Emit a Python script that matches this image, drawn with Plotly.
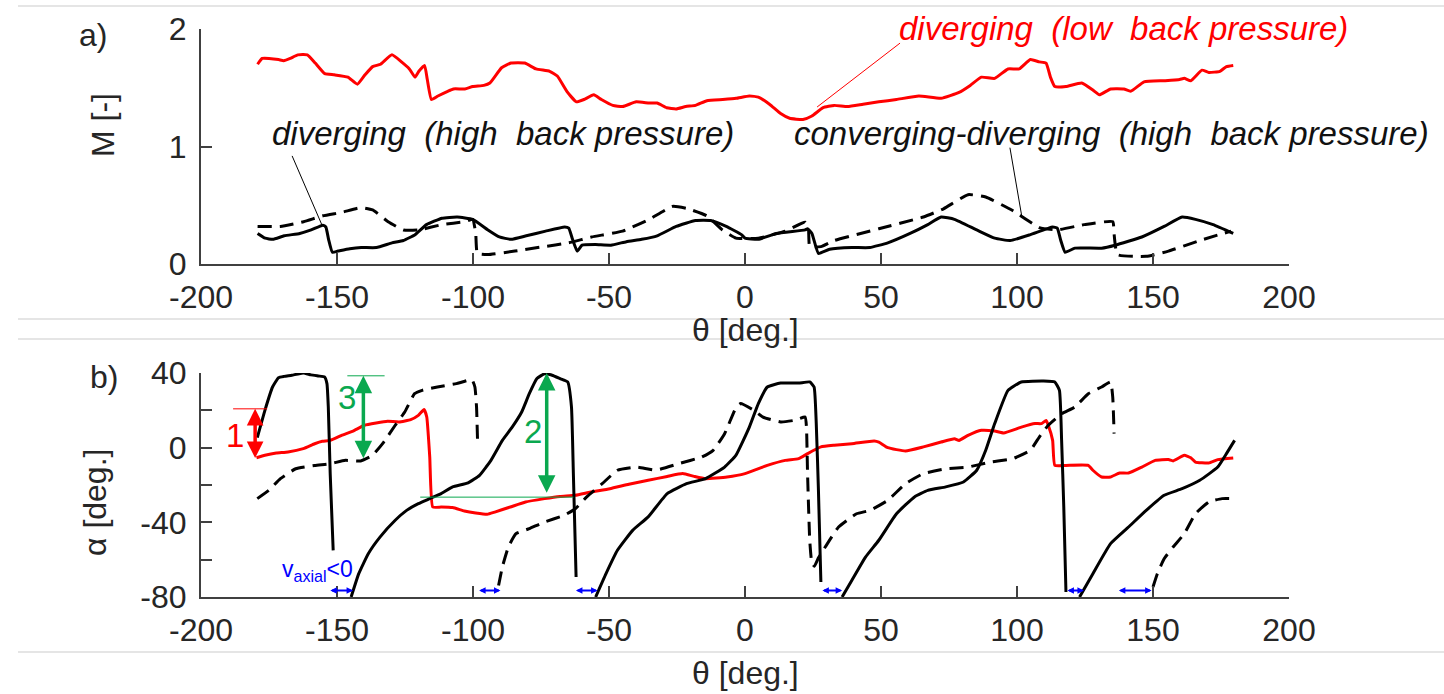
import plotly.graph_objects as go

# ---------------- Panel a) Mach number ----------------
theta_M_low = [-179.2,-177.5,-175,-171.5,-169.6,-167.2,-164.4,-160.9,-158,-154.5,-151,-146,-142.5,-139.7,-136.9,-134,-129.8,-126.3,-123.4,-121.3,-119.9,-117.8,-116.8,-115.3,-112.9,-109.3,-107.2,-103,-100.1,-96,-93.8,-89.5,-86,-81,-76.8,-71.8,-69,-65.5,-62,-59.2,-55.6,-52.8,-48.6,-45,-40,-35.2,-32.3,-28.8,-25.3,-21.8,-18.2,-14,-8.2,-3.3,1.6,4.9,9,13.1,16.4,21.3,24.6,28.7,32.8,37.7,43.4,49.2,55.7,63.9,72.1,78.7,82.8,86.9,91.8,96.7,100.8,104.9,108.2,110.7,112.3,113.9,118,123.8,127.9,130.3,134.4,139.3,141.8,146.7,154.1,159.8,161.5,163.9,168,170.5,174.6,177,179.5]
M_low = [1.70,1.75,1.75,1.74,1.73,1.75,1.78,1.78,1.71,1.62,1.61,1.59,1.53,1.61,1.68,1.70,1.78,1.72,1.66,1.59,1.64,1.69,1.57,1.40,1.43,1.47,1.49,1.49,1.51,1.52,1.54,1.67,1.71,1.71,1.66,1.64,1.60,1.47,1.38,1.40,1.44,1.40,1.35,1.34,1.38,1.37,1.37,1.33,1.32,1.34,1.35,1.39,1.40,1.41,1.43,1.42,1.36,1.28,1.24,1.23,1.26,1.33,1.35,1.34,1.36,1.38,1.40,1.43,1.41,1.46,1.52,1.59,1.58,1.66,1.66,1.74,1.72,1.71,1.59,1.51,1.51,1.54,1.48,1.44,1.49,1.49,1.47,1.55,1.56,1.57,1.58,1.56,1.65,1.63,1.64,1.68,1.69]

theta_M_div = [-179.2,-176.4,-173.6,-169.4,-163.7,-159.5,-155.2,-154.1,-153.1,-151.7,-149.6,-145.3,-141.1,-135.5,-129.8,-125.6,-121.3,-117.1,-111.4,-105.8,-100.1,-94.5,-90.3,-86,-80.4,-73.3,-66.3,-64.8,-63.4,-61.7,-59.9,-54.9,-49.3,-43.6,-38,-32.3,-25.3,-18.2,-12.6,-6.9,-1.3,0,4.9,11.5,22.1,23,24.6,27,31.1,39.3,45.9,52.5,60.7,67.2,72.1,77,85.2,91.8,97.5,104.9,113.1,114.8,116.1,117.7,121.3,131.1,136.1,145.9,154.1,160.7,165.6,172.1,179.5]
M_div = [0.26,0.22,0.21,0.24,0.26,0.29,0.33,0.315,0.21,0.10,0.11,0.13,0.14,0.14,0.18,0.20,0.25,0.335,0.39,0.40,0.38,0.29,0.23,0.21,0.24,0.28,0.315,0.305,0.21,0.11,0.16,0.165,0.16,0.19,0.21,0.24,0.32,0.37,0.37,0.32,0.25,0.22,0.21,0.26,0.29,0.30,0.26,0.09,0.125,0.14,0.14,0.18,0.26,0.335,0.40,0.38,0.29,0.22,0.20,0.25,0.315,0.305,0.20,0.10,0.135,0.135,0.16,0.23,0.32,0.40,0.38,0.335,0.26]

theta_M_cd = [-179.2,-170.8,-162.3,-155.2,-148.2,-141.1,-136.9,-131.2,-125.6,-119.9,-111.4,-103,-100.1,-99,-98.4,-94.5,-84.6,-74.7,-64.8,-56.4,-45,-35.2,-26.7,-21,-14,-8.3,-3.3,4.9,14.8,22.1,23.3,23.8,27.9,32.8,49.2,65.6,73,82,88.5,98.4,108.2,114.8,124.6,135.2,135.7,136.9,147.5,155.7,167.2,178.7]
M_cd = [0.32,0.32,0.36,0.41,0.44,0.48,0.46,0.36,0.29,0.29,0.335,0.36,0.38,0.26,0.09,0.08,0.11,0.145,0.18,0.23,0.28,0.38,0.49,0.47,0.41,0.29,0.22,0.22,0.28,0.355,0.31,0.148,0.148,0.20,0.30,0.40,0.47,0.59,0.57,0.455,0.31,0.29,0.335,0.36,0.255,0.08,0.065,0.11,0.20,0.28]

# ---------------- Panel b) flow angle ----------------
theta_a_low = [-179.6,-176.5,-172.3,-168,-162.4,-158.2,-155.4,-152.5,-148.3,-144.1,-139.9,-135.6,-131.4,-127.2,-122.9,-120.1,-118,-117,-115.9,-114.8,-111.7,-107.5,-103.2,-99,-94.8,-92,-86.3,-80.7,-73.7,-68,-62.4,-56.8,-49.7,-42.7,-35.6,-28.6,-22.9,-18.7,-14.5,-6.6,0,8.2,14.8,19.7,23,27.9,32.8,39.3,47.5,49.2,52.5,59,65.6,72.1,77,78.7,82,86.9,91.8,95.1,101.6,106.6,109,110.7,111.5,113.1,113.9,118,126.2,127.9,131.1,134.4,137.7,141,145.9,150.8,155.7,157.4,161.5,163.9,165.6,170.5,173.8,179.5]
alpha_low = [-5.4,-4.1,-2.9,-2.3,-0.5,2.1,3.4,3.9,6.6,8.9,12,13.2,14.1,13.8,15,17.3,20.4,16.4,-5,-31.8,-31.8,-32.1,-33.9,-35,-35.7,-34.5,-31.8,-29.1,-27.3,-26.1,-25.5,-23.8,-22,-19.6,-17.5,-15.4,-13.9,-15.4,-16.6,-15.7,-13.9,-9.5,-6.8,-5.9,-3.2,0.4,1.3,2.1,3.6,3,0,-1.8,0.4,3,4.8,3.9,6.6,9.3,8.9,7.9,11,12.9,12.9,14.6,12,3.9,-9.5,-9.5,-9.5,-12.1,-15.7,-15.7,-13.6,-13.6,-10.4,-6.8,-6.4,-7.1,-4.1,-5.4,-7.7,-8.2,-6.4,-5.5]

theta_a_div = [-179.3,-176.5,-173.7,-171.5,-169.4,-166.6,-162.4,-159.6,-156.8,-154.6,-153.7,-153.2,-152.5,-151.4, None,
               -144.8,-142,-138.5,-134.2,-128.6,-124.4,-120.1,-115.9,-111.7,-107.5,-101.8,-97.6,-93.4,-89.2,-85.6,-82.1,-79.3,-76.5,-73.7,-70.9,-68,-65.2,-63.8,-63.1,-62.1, None,
               -54.9,-51.1,-46.9,-41.3,-35.6,-28.6,-21.5,-14.5,-7.5,-3.3,1.6,4.9,8.2,13.1,19.7,23.8,25.4,26.2,27,27.9, None,
               35.7,39.3,44.3,49.2,55.7,62.3,67.2,73.8,80.3,85.2,88.5,91.8,96.7,101.6,109.8,113.9,115.6,116.4,117.2,118, None,
               123,127.9,134.4,141,147.5,154.1,160.7,167.2,173.8,177,180]
alpha_div = [5.4,20,32.5,37.5,38.2,38.8,40,39,38.4,37.9,34.3,21.8,-14,-55, None,
             -80,-67.5,-56.8,-47.9,-38.9,-33.6,-30,-27.3,-24.6,-21,-18.9,-14.8,-6.8,3.9,11,19.1,28.9,37,39.6,38.8,37,35.2,21.8,-14,-69.3, None,
             -80,-67.5,-55,-44.3,-37.1,-24.6,-19.3,-16.6,-10.4,-4,11,23.6,32.5,34.6,34.6,35.2,32.5,12.9,-22.9,-72, None,
             -80,-71,-58.6,-49.6,-35.4,-26.4,-22.9,-21,-18.4,-12.1,-1.4,12.9,30.7,35.2,35.7,35.2,30.7,3.9,-31.8,-77.3, None,
             -80,-67.5,-51.4,-42.5,-33.6,-25.5,-22,-17.5,-10.4,-3.2,3.9]

theta_a_cd = [-179.3,-175.1,-170.8,-165.2,-158.2,-152.5,-146.9,-141.3,-137,-132.8,-128.6,-125.1,-121.5,-118.7,-113.1,-106.1,-100.4,-99.3,-98.7,-98.3, None,
              -90.6,-89.2,-87,-84.2,-79.3,-73.7,-66.6,-62.4,-58.2,-52.5,-46.9,-39.9,-32.8,-24.4,-15.9,-11.7,-7.5,-3.2,-1.6,3.3,6.6,13.1,18,22.1,22.6,23,23.8,24.6,25.5,27,29.5,34.4,41,45.9,52.5,59,65.6,73.8,82,90.2,98.4,104.9,108.2,111.5,116.4,121.3,126.2,131.1,134.4,135.2,135.7, None,
              150,151.6,154.1,157.4,161.5,165.6,170.5,175.4,179.5]
alpha_cd = [-27.3,-22.9,-16.6,-11.3,-9.5,-8.6,-6.8,-7.1,-4.1,3,12,19.1,28.9,30.7,32.5,34.3,36.4,32.5,21.8,2.1, None,
            -73.8,-63.9,-53.2,-46.1,-43.4,-39.8,-36.3,-32.7,-26.4,-19.3,-12.1,-10.4,-12.1,-8.6,-5,-1.4,7.5,21.8,23.6,20,16.4,13.8,14.6,16.4,11,-14,-49.6,-62,-63.5,-59,-53.2,-42.5,-35.4,-33.6,-28.2,-19.3,-13.9,-11.3,-10.4,-7.7,-5.9,-1.4,5.7,12,18.2,21.8,28.9,32.5,35.2,27.1,7.5, None,
            -74.6,-67.5,-59.5,-53.2,-46.1,-35.4,-29.1,-27.3,-27.3]

# reverse-flow regions (v_axial < 0), theta start/end
reverse_start = [-153.0, -98.3, -62.7, 27.9, 118.0, 136.9]
reverse_end = [-144.1, -89.9, -54.2, 35.7, 124.6, 149.5]

x_ticks = [-200, -150, -100, -50, 0, 50, 100, 150, 200]
x_ticklabels = ["-200", "-150", "-100", "-50", "0", "50", "100", "150", "200"]
yA_ticks = [0, 1, 2]
yA_ticklabels = ["0", "1", "2"]
yB_ticks = [-80, -40, 0, 40]
yB_ticklabels = ["-80", "-40", "0", "40"]
yB_minor_ticks = [-60, -20, 20]

for a, b in [(theta_M_low, M_low), (theta_M_div, M_div), (theta_M_cd, M_cd),
             (theta_a_low, alpha_low), (theta_a_div, alpha_div), (theta_a_cd, alpha_cd)]:
    assert len(a) == len(b), (len(a), len(b))

W, H = 1444, 694
RED = "#ff0000"
GREEN = "#0aa84f"
BLUE = "#0000ff"
AXC = "#404040"
TXT = "#262626"
FONT = "Liberation Sans, Arial, sans-serif"

def py(p):  # pixel y -> paper
    return (H - p) / H

def px(p):
    return p / W

fig = go.Figure()
LS = dict(shape="spline", smoothing=0.4)
fig.add_trace(go.Scatter(x=theta_M_low, y=M_low, mode="lines", line=dict(color=RED, width=3, **LS), xaxis="x", yaxis="y"))
fig.add_trace(go.Scatter(x=theta_M_div, y=M_div, mode="lines", line=dict(color="#000000", width=3, **LS), xaxis="x", yaxis="y"))
fig.add_trace(go.Scatter(x=theta_M_cd, y=M_cd, mode="lines", line=dict(color="#000000", width=3, dash="14px,8px", **LS), xaxis="x", yaxis="y"))

fig.add_trace(go.Scatter(x=theta_a_low, y=alpha_low, mode="lines", line=dict(color=RED, width=3, **LS), xaxis="x2", yaxis="y2"))
fig.add_trace(go.Scatter(x=theta_a_div, y=alpha_div, mode="lines", line=dict(color="#000000", width=3, **LS), xaxis="x2", yaxis="y2", connectgaps=False))
fig.add_trace(go.Scatter(x=theta_a_cd, y=alpha_cd, mode="lines", line=dict(color="#000000", width=3, dash="14px,8px", **LS), xaxis="x2", yaxis="y2", connectgaps=False))

xdom = [px(201), px(1289)]
axis_common = dict(showline=True, linecolor=AXC, linewidth=2, ticks="inside", ticklen=11,
                   tickwidth=2, tickcolor=AXC, showgrid=False, zeroline=False, automargin=False,
                   tickfont=dict(family=FONT, size=32, color=TXT), mirror=False)

fig.update_layout(
    template="none",
    width=W, height=H, margin=dict(l=0, r=0, t=0, b=0, pad=0, autoexpand=False),
    paper_bgcolor="white", plot_bgcolor="white", showlegend=False,
    xaxis=dict(domain=xdom, range=[-200, 200], tickvals=x_ticks, ticktext=x_ticklabels,
               anchor="y", ticklabelstandoff=4, **axis_common),
    yaxis=dict(domain=[py(264), py(29)], range=[0, 2], tickvals=yA_ticks, ticktext=yA_ticklabels,
               anchor="x", ticklabelstandoff=6, **axis_common),
    xaxis2=dict(domain=xdom, range=[-200, 200], tickvals=x_ticks, ticktext=x_ticklabels,
                anchor="y2", ticklabelstandoff=4, **axis_common),
    yaxis2=dict(domain=[py(597), py(373)], range=[-80, 40], tickvals=yB_ticks, ticktext=yB_ticklabels,
                anchor="x2", ticklabelstandoff=6,
                minor=dict(tickvals=yB_minor_ticks, ticks="inside", ticklen=11, tickwidth=2, tickcolor=AXC, showgrid=False),
                **axis_common),
)

shapes = []
# light frame lines of the two sub-figures
for yy in [6, 319, 339, 652]:
    shapes.append(dict(type="line", xref="paper", yref="paper", x0=px(18), x1=1, y0=py(yy), y1=py(yy),
                       line=dict(color="#dcdcdc", width=1.5), layer="below"))
# pointer lines panel a
shapes.append(dict(type="line", xref="x", yref="y", x0=57, y0=1.88, x1=26.5, y1=1.336, line=dict(color=RED, width=1)))
shapes.append(dict(type="line", xref="x", yref="y", x0=-166.5, y0=0.92, x1=-155.5, y1=0.33, line=dict(color="#000000", width=1)))
shapes.append(dict(type="line", xref="x", yref="y", x0=97.4, y0=0.99, x1=101.8, y1=0.40, line=dict(color="#000000", width=1)))
# thin reference lines panel b
shapes.append(dict(type="line", xref="x2", yref="y2", x0=-188.2, x1=-175.7, y0=20.8, y1=20.8, line=dict(color=RED, width=1)))
shapes.append(dict(type="line", xref="x2", yref="y2", x0=-146.2, x1=-132.5, y0=38.5, y1=38.5, line=dict(color=GREEN, width=1)))
shapes.append(dict(type="line", xref="x2", yref="y2", x0=-119.4, x1=-63.1, y0=-26.5, y1=-26.5, line=dict(color=GREEN, width=1)))
fig.update_layout(shapes=shapes)

ann = []
def txt(x, y, text, size=32, color=TXT, xref="paper", yref="paper", italic=False, angle=0, xanchor="center"):
    t = f"<i>{text}</i>" if italic else text
    ann.append(dict(x=x, y=y, xref=xref, yref=yref, text=t, showarrow=False, textangle=angle,
                    xanchor=xanchor, yanchor="middle", font=dict(family=FONT, size=size, color=color)))

txt(px(93), py(35), "a)")
txt(px(104), py(377), "b)")
txt(px(103), py(125), "M [-]", angle=-90)
txt(px(95), py(503), "α [deg.]", angle=-90)
txt(px(745), py(330), "θ [deg.]")
txt(px(745), py(673), "θ [deg.]")

txt(px(1123), py(29), "diverging\u00a0 (low\u00a0 back pressure)", size=33, color=RED, italic=True)
txt(px(503), py(133), "diverging\u00a0 (high\u00a0 back pressure)", size=33, color="#111111", italic=True)
txt(px(1111), py(133), "converging-diverging\u00a0 (high\u00a0 back pressure)", size=33, color="#111111", italic=True)

txt(-187.6, 6.4, "1", size=33, color=RED, xref="x2", yref="y2")
txt(-146.3, 27, "3", size=33, color=GREEN, xref="x2", yref="y2")
txt(-77.8, 8.4, "2", size=33, color=GREEN, xref="x2", yref="y2")
txt(-157, -65.6, "v<sub>axial</sub>&lt;0", size=23, color=BLUE, xref="x2", yref="y2")

def darrow(x0, y0, x1, y1, color, width, size):
    ann.append(dict(x=x1, y=y1, ax=x0, ay=y0, xref="x2", yref="y2", axref="x2", ayref="y2",
                    text="", showarrow=True, arrowhead=2, startarrowhead=2, arrowside="end+start",
                    arrowwidth=width, arrowsize=size, startarrowsize=size, arrowcolor=color,
                    standoff=0, startstandoff=0))

darrow(-180.1, -6.4, -180.1, 20.8, RED, 3.5, 0.95)
darrow(-140.3, -6.5, -140.3, 38.5, GREEN, 3.5, 1.0)
darrow(-72.9, -25.0, -72.9, 40.0, GREEN, 3.5, 1.0)
for s, e in zip(reverse_start, reverse_end):
    darrow(s, -76.5, e, -76.5, BLUE, 2, 0.65)

fig.update_layout(annotations=ann)
fig.write_html("out.html", config={"displayModeBar": False},
               post_script="document.body.style.margin='0px';document.body.style.padding='0px';")
